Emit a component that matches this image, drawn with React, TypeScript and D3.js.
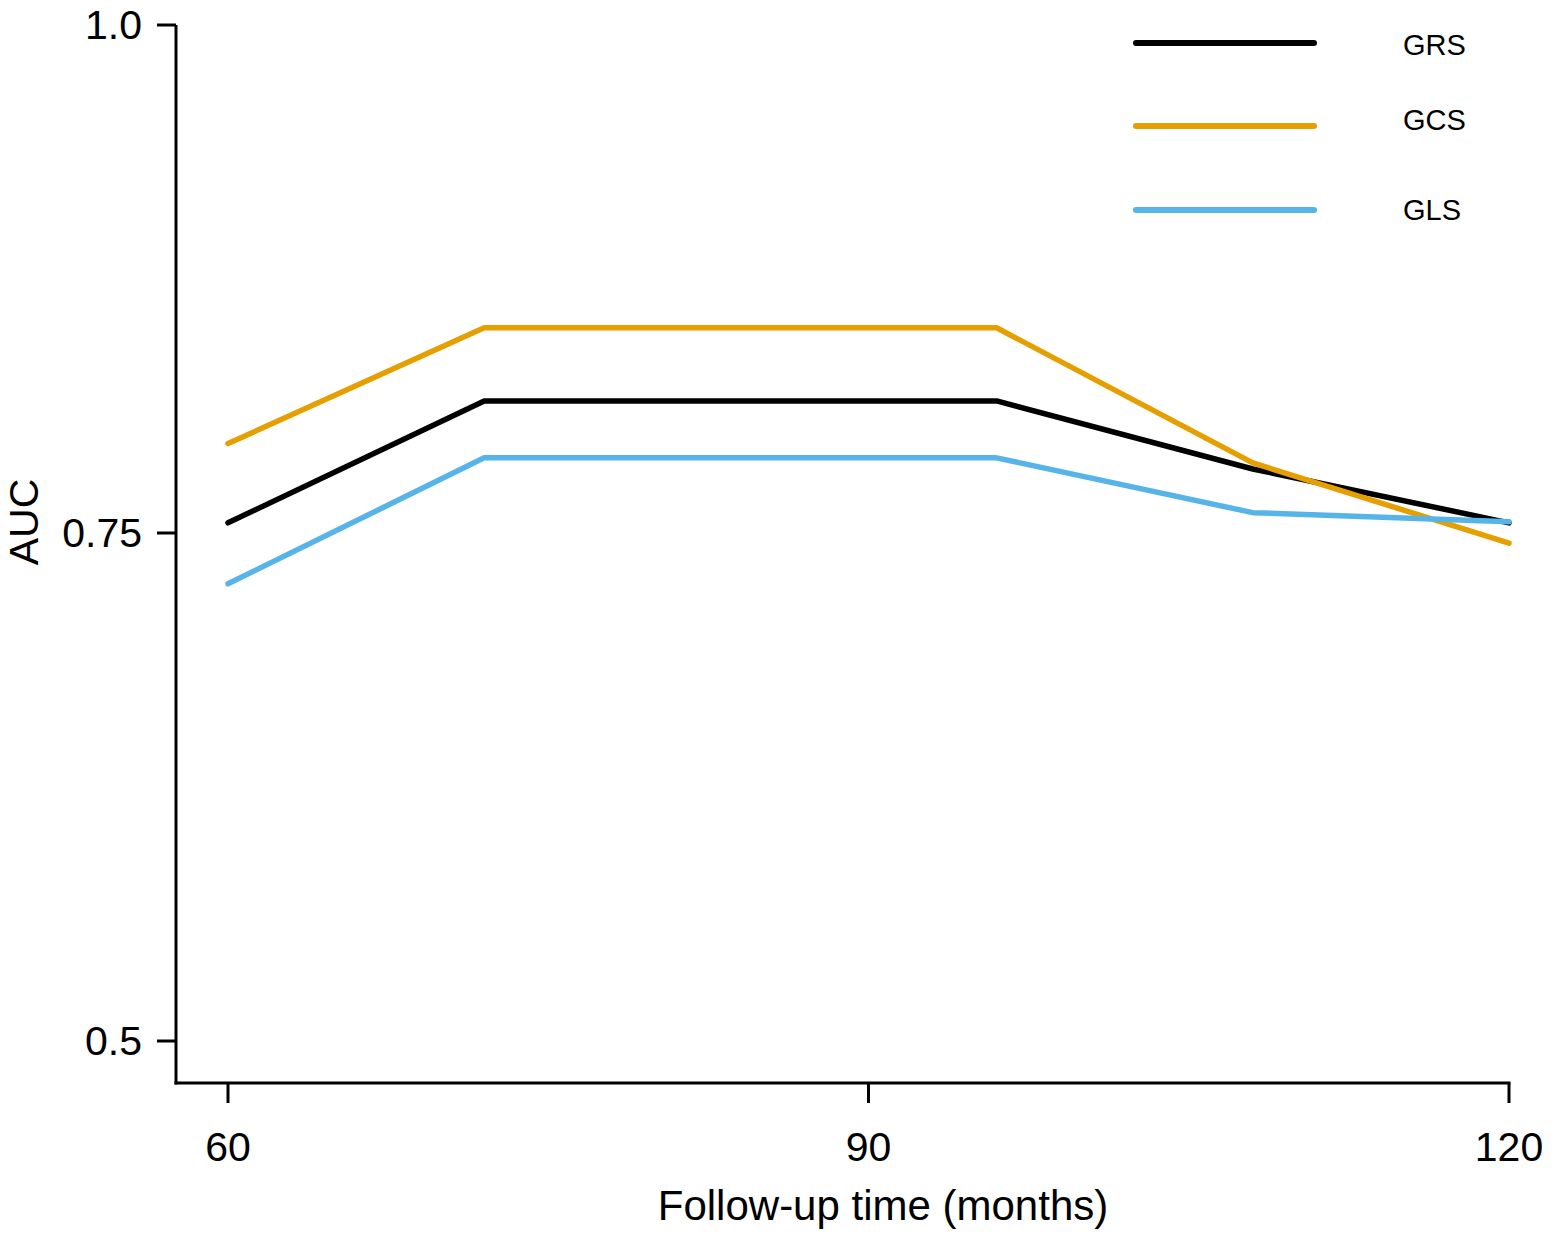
import React from "react";
import * as d3 from "d3";

const months = [60, 72, 96, 108, 120];
const GRS = [0.755, 0.815, 0.815, 0.7815, 0.755];
const GCS = [0.794, 0.851, 0.851, 0.7845, 0.745];
const GLS = [0.725, 0.787, 0.787, 0.76, 0.7555];
const seriesNames = ["GRS", "GCS", "GLS"];
const seriesColors = ["#000000", "#E69F00", "#56B4E9"];
const xTicks = [60, 90, 120];
const yTicks = [0.5, 0.75, 1.0];
const yTickLabels = ["0.5", "0.75", "1.0"];

const W = 1555;
const H = 1235;
const FONT = "'Liberation Sans', Arial, sans-serif";

export default function App() {
  const x = d3.scaleLinear().domain([60, 120]).range([228, 1509]);
  const y = d3.scaleLinear().domain([0.5, 1.0]).range([1041, 25]);
  const axisX = 176;
  const axisY = 1083;
  const data = [GRS, GCS, GLS];
  const line = d3
    .line<number>()
    .x((_, i) => x(months[i]))
    .y((d) => y(d));

  const legendY = [43, 126, 210];
  const legendTextY = [45, 120, 210];

  return (
    <svg
      width={W}
      height={H}
      style={{ position: "absolute", left: 0, top: 0, background: "#fff" }}
      fontFamily={FONT}
    >
      <rect width={W} height={H} fill="#fff" />
      {/* axes */}
      <line x1={axisX} x2={axisX} y1={y(1.0)} y2={axisY + 1.5} stroke="#000" strokeWidth={3} />
      <line x1={axisX - 1.5} x2={x(120) + 1.5} y1={axisY} y2={axisY} stroke="#000" strokeWidth={3} />
      {yTicks.map((t, i) => (
        <g key={"y" + t}>
          <line x1={axisX - 19} x2={axisX} y1={y(t)} y2={y(t)} stroke="#000" strokeWidth={3} />
          <text
            x={142}
            y={y(t)}
            textAnchor="end"
            dominantBaseline="central"
            fontSize={41}
            fill="#000"
          >
            {yTickLabels[i]}
          </text>
        </g>
      ))}
      {xTicks.map((t) => (
        <g key={"x" + t}>
          <line x1={x(t)} x2={x(t)} y1={axisY} y2={axisY + 20} stroke="#000" strokeWidth={3} />
          <text x={x(t)} y={1161} textAnchor="middle" fontSize={41} fill="#000">
            {t}
          </text>
        </g>
      ))}
      <text x={883} y={1220} textAnchor="middle" fontSize={42} fill="#000">
        Follow-up time (months)
      </text>
      <text
        transform={`translate(38, 522) rotate(-90)`}
        textAnchor="middle"
        fontSize={41}
        fill="#000"
      >
        AUC
      </text>
      {/* series */}
      {data.map((d, i) => (
        <path
          key={seriesNames[i]}
          d={line(d) || ""}
          fill="none"
          stroke={seriesColors[i]}
          strokeWidth={5.5}
          strokeLinecap="round"
          strokeLinejoin="round"
        />
      ))}
      {/* legend */}
      {seriesNames.map((n, i) => (
        <g key={"leg" + n}>
          <line
            x1={1136}
            x2={1314}
            y1={legendY[i]}
            y2={legendY[i]}
            stroke={seriesColors[i]}
            strokeWidth={6}
            strokeLinecap="round"
          />
          <text
            x={1403}
            y={legendTextY[i]}
            dominantBaseline="central"
            fontSize={29}
            fill="#000"
          >
            {n}
          </text>
        </g>
      ))}
    </svg>
  );
}
